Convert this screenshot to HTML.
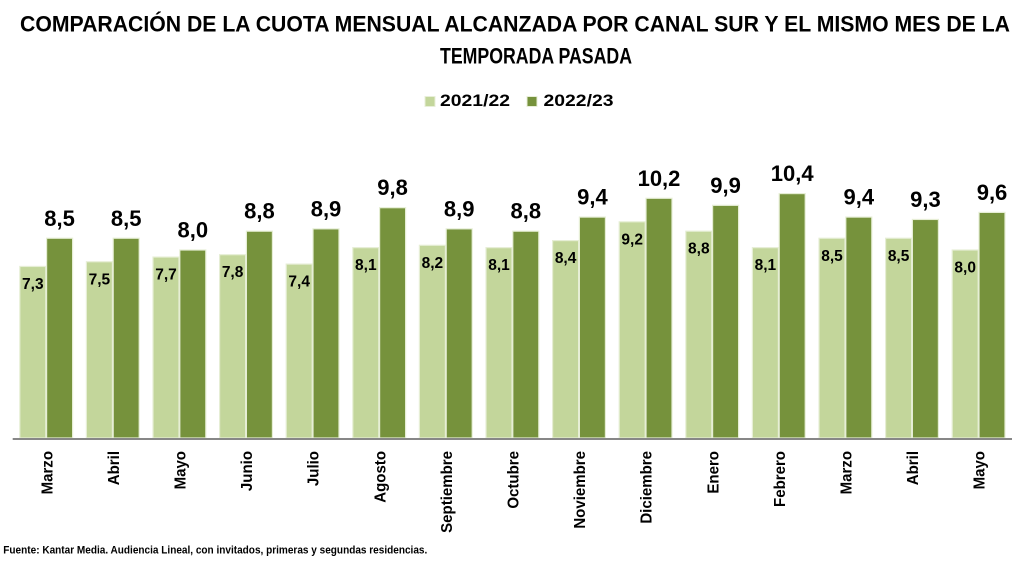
<!DOCTYPE html>
<html><head><meta charset="utf-8"><style>
html,body{margin:0;padding:0;background:#fff;}
svg{display:block;}
text{font-family:"Liberation Sans",Arial,sans-serif;font-weight:bold;fill:#000;}
</style></head><body>
<svg width="1024" height="576" viewBox="0 0 1024 576" xmlns="http://www.w3.org/2000/svg">
<rect width="1024" height="576" fill="#fff"/>
<text x="20" y="31.5" font-size="22.5" textLength="990" lengthAdjust="spacingAndGlyphs">COMPARACIÓN DE LA CUOTA MENSUAL ALCANZADA POR CANAL SUR Y EL MISMO MES DE LA</text>
<text x="440" y="63.3" font-size="22.5" textLength="192" lengthAdjust="spacingAndGlyphs">TEMPORADA PASADA</text>
<rect x="425" y="96.5" width="10" height="10" fill="#c3d69b" stroke="#e8efd9" stroke-width="1"/>
<text x="440" y="106" font-size="16.5" textLength="70" lengthAdjust="spacingAndGlyphs">2021/22</text>
<rect x="527" y="96.5" width="10" height="10" fill="#76923c" stroke="#e8efd9" stroke-width="1"/>
<text x="543.5" y="106" font-size="16.5" textLength="70" lengthAdjust="spacingAndGlyphs">2022/23</text>

<g stroke="#e6eed5" stroke-width="1.2">
<g fill="#c3d69b">
<rect x="19.8" y="266.45" width="26" height="171.55"/>
<rect x="86.4" y="261.75" width="26" height="176.25"/>
<rect x="153" y="257.05" width="26" height="180.95"/>
<rect x="219.6" y="254.7" width="26" height="183.3"/>
<rect x="286.2" y="264.1" width="26" height="173.9"/>
<rect x="352.8" y="247.65" width="26" height="190.35"/>
<rect x="419.4" y="245.3" width="26" height="192.7"/>
<rect x="486" y="247.65" width="26" height="190.35"/>
<rect x="552.6" y="240.6" width="26" height="197.4"/>
<rect x="619.2" y="221.8" width="26" height="216.2"/>
<rect x="685.8" y="231.2" width="26" height="206.8"/>
<rect x="752.4" y="247.65" width="26" height="190.35"/>
<rect x="819" y="238.25" width="26" height="199.75"/>
<rect x="885.6" y="238.25" width="26" height="199.75"/>
<rect x="952.2" y="250" width="26" height="188"/>
</g>
<g fill="#76923c">
<rect x="46.6" y="238.25" width="26" height="199.75"/>
<rect x="113.2" y="238.25" width="26" height="199.75"/>
<rect x="179.8" y="250" width="26" height="188"/>
<rect x="246.4" y="231.2" width="26" height="206.8"/>
<rect x="313" y="228.85" width="26" height="209.15"/>
<rect x="379.6" y="207.7" width="26" height="230.3"/>
<rect x="446.2" y="228.85" width="26" height="209.15"/>
<rect x="512.8" y="231.2" width="26" height="206.8"/>
<rect x="579.4" y="217.1" width="26" height="220.9"/>
<rect x="646" y="198.3" width="26" height="239.7"/>
<rect x="712.6" y="205.35" width="26" height="232.65"/>
<rect x="779.2" y="193.6" width="26" height="244.4"/>
<rect x="845.8" y="217.1" width="26" height="220.9"/>
<rect x="912.4" y="219.45" width="26" height="218.55"/>
<rect x="979" y="212.4" width="26" height="225.6"/>
</g>
</g>
<rect x="12.7" y="438" width="999.3" height="2" fill="#878787"/>

<g font-size="15.5" text-anchor="middle">
<text x="32.8" y="289">7,3</text>
<text x="99.4" y="284.25">7,5</text>
<text x="166" y="279.55">7,7</text>
<text x="232.6" y="277.2">7,8</text>
<text x="299.2" y="286.6">7,4</text>
<text x="365.8" y="270.15">8,1</text>
<text x="432.4" y="267.8">8,2</text>
<text x="499" y="270.15">8,1</text>
<text x="565.6" y="263.1">8,4</text>
<text x="632.2" y="244.3">9,2</text>
<text x="698.8" y="253.7">8,8</text>
<text x="765.4" y="270.15">8,1</text>
<text x="832" y="260.75">8,5</text>
<text x="898.6" y="260.75">8,5</text>
<text x="965.2" y="272.5">8,0</text>
</g>
<g font-size="22" text-anchor="middle">
<text x="59.6" y="225.75">8,5</text>
<text x="126.2" y="225.75">8,5</text>
<text x="192.8" y="237.5">8,0</text>
<text x="259.4" y="218.7">8,8</text>
<text x="326" y="216.35">8,9</text>
<text x="392.6" y="195.2">9,8</text>
<text x="459.2" y="216.35">8,9</text>
<text x="525.8" y="218.7">8,8</text>
<text x="592.4" y="204.6">9,4</text>
<text x="659" y="185.8">10,2</text>
<text x="725.6" y="192.85">9,9</text>
<text x="792.2" y="181.1">10,4</text>
<text x="858.8" y="204.6">9,4</text>
<text x="925.4" y="206.95">9,3</text>
<text x="992" y="199.9">9,6</text>
</g>

<g font-size="16" text-anchor="end">
<text transform="translate(52.3,451) rotate(-90) scale(0.94,1)">Marzo</text>
<text transform="translate(118.9,451) rotate(-90) scale(0.94,1)">Abril</text>
<text transform="translate(185.5,451) rotate(-90) scale(0.94,1)">Mayo</text>
<text transform="translate(252.1,451) rotate(-90) scale(0.94,1)">Junio</text>
<text transform="translate(318.7,451) rotate(-90) scale(0.94,1)">Julio</text>
<text transform="translate(385.3,451) rotate(-90) scale(0.94,1)">Agosto</text>
<text transform="translate(451.9,451) rotate(-90) scale(0.94,1)">Septiembre</text>
<text transform="translate(518.5,451) rotate(-90) scale(0.94,1)">Octubre</text>
<text transform="translate(585.1,451) rotate(-90) scale(0.94,1)">Noviembre</text>
<text transform="translate(651.7,451) rotate(-90) scale(0.94,1)">Diciembre</text>
<text transform="translate(718.3,451) rotate(-90) scale(0.94,1)">Enero</text>
<text transform="translate(784.9,451) rotate(-90) scale(0.94,1)">Febrero</text>
<text transform="translate(851.5,451) rotate(-90) scale(0.94,1)">Marzo</text>
<text transform="translate(918.1,451) rotate(-90) scale(0.94,1)">Abril</text>
<text transform="translate(984.7,451) rotate(-90) scale(0.94,1)">Mayo</text>
</g>

<text x="3.3" y="553.5" font-size="11" textLength="424" lengthAdjust="spacingAndGlyphs">Fuente: Kantar Media. Audiencia Lineal, con invitados, primeras y segundas residencias.</text>
</svg>
</body></html>
